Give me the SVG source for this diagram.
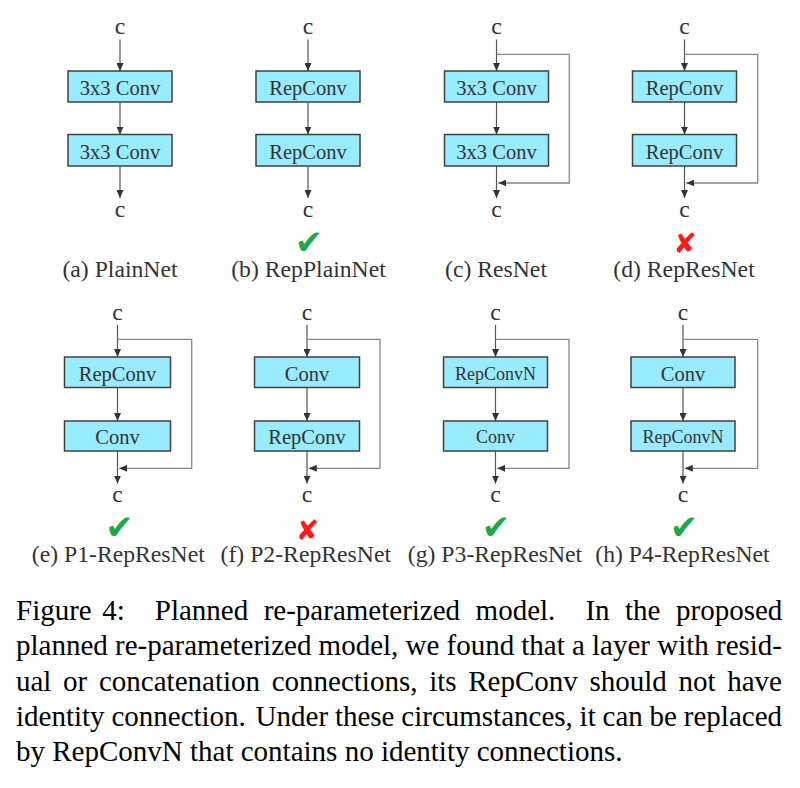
<svg xmlns="http://www.w3.org/2000/svg" width="800" height="788" viewBox="0 0 800 788">
<defs>
<style>
.box{fill:#99ebff;stroke:#404040;stroke-width:1.5}
.bt{font-family:"Liberation Serif","Times New Roman",serif;font-size:20.5px;fill:#333;text-anchor:middle}
.bs{font-size:18px}
.lbl{font-family:"Liberation Serif","Times New Roman",serif;font-size:23.7px;fill:#333;text-anchor:middle}
.cap{font-family:"Liberation Serif","Times New Roman",serif;font-size:29px;fill:#000}
.v{stroke:#555;stroke-width:1.2;fill:none}
.s{stroke:#888;stroke-width:1.3;fill:none}
.ok{font-family:"DejaVu Sans",sans-serif;font-size:34px;fill:#1fa84a;text-anchor:middle}
.no{font-family:"DejaVu Sans",sans-serif;font-size:28px;fill:#ff1a1a;text-anchor:middle}
</style>
<marker id="ah" markerUnits="userSpaceOnUse" markerWidth="8" markerHeight="7" refX="8" refY="3.5" orient="auto">
<path d="M0,0 L8,3.5 L0,7 z" fill="#333"/>
</marker>
</defs>
<rect width="800" height="788" fill="#fff"/>

<g id="connectors">
<!-- a -->
<line class="v" x1="120" y1="39.5" x2="120" y2="71" marker-end="url(#ah)"/>
<line class="v" x1="120" y1="102" x2="120" y2="134.5" marker-end="url(#ah)"/>
<line class="v" x1="120" y1="166" x2="120" y2="198" marker-end="url(#ah)"/>
<!-- b -->
<line class="v" x1="308" y1="39.5" x2="308" y2="71" marker-end="url(#ah)"/>
<line class="v" x1="308" y1="102" x2="308" y2="134.5" marker-end="url(#ah)"/>
<line class="v" x1="308" y1="166" x2="308" y2="198" marker-end="url(#ah)"/>
<!-- c -->
<line class="v" x1="496.5" y1="39.5" x2="496.5" y2="71" marker-end="url(#ah)"/>
<line class="v" x1="496.5" y1="102" x2="496.5" y2="134.5" marker-end="url(#ah)"/>
<line class="v" x1="496.5" y1="166" x2="496.5" y2="198" marker-end="url(#ah)"/>
<path class="s" d="M496.5,54.3 H569.3 V183 H498.3" marker-end="url(#ah)"/>
<!-- d -->
<line class="v" x1="684.5" y1="39.5" x2="684.5" y2="71" marker-end="url(#ah)"/>
<line class="v" x1="684.5" y1="102" x2="684.5" y2="134.5" marker-end="url(#ah)"/>
<line class="v" x1="684.5" y1="166" x2="684.5" y2="198" marker-end="url(#ah)"/>
<path class="s" d="M684.5,54.3 H757.7 V183 H686.3" marker-end="url(#ah)"/>
<!-- e -->
<line class="v" x1="117.5" y1="325" x2="117.5" y2="357" marker-end="url(#ah)"/>
<line class="v" x1="117.5" y1="387.5" x2="117.5" y2="421" marker-end="url(#ah)"/>
<line class="v" x1="117.5" y1="451" x2="117.5" y2="483.5" marker-end="url(#ah)"/>
<path class="s" d="M117.5,339.3 H191.7 V468.3 H119.3" marker-end="url(#ah)"/>
<!-- f -->
<line class="v" x1="307" y1="325" x2="307" y2="357" marker-end="url(#ah)"/>
<line class="v" x1="307" y1="387.5" x2="307" y2="421" marker-end="url(#ah)"/>
<line class="v" x1="307" y1="451" x2="307" y2="483.5" marker-end="url(#ah)"/>
<path class="s" d="M307,339.3 H380 V468.3 H308.8" marker-end="url(#ah)"/>
<!-- g -->
<line class="v" x1="495.5" y1="325" x2="495.5" y2="357" marker-end="url(#ah)"/>
<line class="v" x1="495.5" y1="387.5" x2="495.5" y2="421" marker-end="url(#ah)"/>
<line class="v" x1="495.5" y1="451" x2="495.5" y2="483.5" marker-end="url(#ah)"/>
<path class="s" d="M495.5,339.3 H569 V468.3 H497.3" marker-end="url(#ah)"/>
<!-- h -->
<line class="v" x1="683" y1="325" x2="683" y2="357" marker-end="url(#ah)"/>
<line class="v" x1="683" y1="387.5" x2="683" y2="421" marker-end="url(#ah)"/>
<line class="v" x1="683" y1="451" x2="683" y2="483.5" marker-end="url(#ah)"/>
<path class="s" d="M683,339.3 H757.7 V468.3 H684.8" marker-end="url(#ah)"/>
</g>

<g id="panel-a">
<text class="lbl" x="120" y="34">c</text>
<g id="a-conv1"><rect class="box" x="68" y="71" width="104" height="31"/><text class="bt" x="120" y="95">3x3 Conv</text></g>
<g id="a-conv2"><rect class="box" x="68" y="134.5" width="104" height="31.5"/><text class="bt" x="120" y="158.5">3x3 Conv</text></g>
<text class="lbl" x="120" y="217">c</text>
<text class="lbl" x="120" y="277">(a) PlainNet</text>
</g>

<g id="panel-b">
<text class="lbl" x="308" y="34">c</text>
<g id="b-conv1"><rect class="box" x="256" y="71" width="104" height="31"/><text class="bt" x="308" y="95">RepConv</text></g>
<g id="b-conv2"><rect class="box" x="256" y="134.5" width="104" height="31.5"/><text class="bt" x="308" y="158.5">RepConv</text></g>
<text class="lbl" x="308" y="217">c</text>
<text class="ok" x="309" y="254">✔</text>
<text class="lbl" x="308.5" y="277">(b) RepPlainNet</text>
</g>

<g id="panel-c">
<text class="lbl" x="496.5" y="34">c</text>
<g id="c-conv1"><rect class="box" x="444.5" y="71" width="104" height="31"/><text class="bt" x="496.5" y="95">3x3 Conv</text></g>
<g id="c-conv2"><rect class="box" x="444.5" y="134.5" width="104" height="31.5"/><text class="bt" x="496.5" y="158.5">3x3 Conv</text></g>
<text class="lbl" x="496.5" y="217">c</text>
<text class="lbl" x="496" y="277">(c) ResNet</text>
</g>

<g id="panel-d">
<text class="lbl" x="684.5" y="34">c</text>
<g id="d-conv1"><rect class="box" x="632.5" y="71" width="104" height="31"/><text class="bt" x="684.5" y="95">RepConv</text></g>
<g id="d-conv2"><rect class="box" x="632.5" y="134.5" width="104" height="31.5"/><text class="bt" x="684.5" y="158.5">RepConv</text></g>
<text class="lbl" x="684.5" y="217">c</text>
<text class="no" x="685" y="252.5">✘</text>
<text class="lbl" x="684" y="277">(d) RepResNet</text>
</g>

<g id="panel-e">
<text class="lbl" x="117.5" y="320">c</text>
<g id="e-conv1"><rect class="box" x="64.5" y="357" width="106" height="30.5"/><text class="bt" x="117.5" y="380.5">RepConv</text></g>
<g id="e-conv2"><rect class="box" x="64.5" y="421" width="106" height="30"/><text class="bt" x="117.5" y="444">Conv</text></g>
<text class="lbl" x="117.5" y="502">c</text>
<text class="ok" x="119.5" y="539">✔</text>
<text class="lbl" x="118.3" y="562">(e) P1-RepResNet</text>
</g>

<g id="panel-f">
<text class="lbl" x="307" y="320">c</text>
<g id="f-conv1"><rect class="box" x="254.5" y="357" width="105" height="30.5"/><text class="bt" x="307" y="380.5">Conv</text></g>
<g id="f-conv2"><rect class="box" x="254.5" y="421" width="105" height="30"/><text class="bt" x="307" y="444">RepConv</text></g>
<text class="lbl" x="307" y="502">c</text>
<text class="no" x="307.5" y="539.5">✘</text>
<text class="lbl" x="305.8" y="562">(f) P2-RepResNet</text>
</g>

<g id="panel-g">
<text class="lbl" x="495.5" y="320">c</text>
<g id="g-conv1"><rect class="box" x="443.5" y="357" width="104" height="30.5"/><text class="bt bs" x="495.5" y="379.5">RepConvN</text></g>
<g id="g-conv2"><rect class="box" x="443.5" y="421" width="104" height="30"/><text class="bt bs" x="495.5" y="443">Conv</text></g>
<text class="lbl" x="495.5" y="502">c</text>
<text class="ok" x="496" y="539">✔</text>
<text class="lbl" x="495" y="562">(g) P3-RepResNet</text>
</g>

<g id="panel-h">
<text class="lbl" x="683" y="320">c</text>
<g id="h-conv1"><rect class="box" x="631" y="357" width="104" height="30.5"/><text class="bt" x="683" y="380.5">Conv</text></g>
<g id="h-conv2"><rect class="box" x="631" y="421" width="104" height="30"/><text class="bt bs" x="683" y="443">RepConvN</text></g>
<text class="lbl" x="683" y="502">c</text>
<text class="ok" x="684" y="539">✔</text>
<text class="lbl" x="682.5" y="562">(h) P4-RepResNet</text>
</g>

<g id="caption">
<text class="cap" y="620"><tspan x="16">Figure</tspan><tspan x="102.2">4:</tspan><tspan x="154.8">Planned</tspan><tspan x="263.7">re-parameterized</tspan><tspan x="475.6">model.</tspan><tspan x="585.4">In</tspan><tspan x="625">the</tspan><tspan x="676">proposed</tspan></text>
<text class="cap" y="655.3"><tspan x="16">planned</tspan><tspan x="115">re-parameterized</tspan><tspan x="318.6">model,</tspan><tspan x="405.5">we</tspan><tspan x="446.5">found</tspan><tspan x="521.3">that</tspan><tspan x="572">a</tspan><tspan x="592">layer</tspan><tspan x="657.2">with</tspan><tspan x="716">resid-</tspan></text>
<text class="cap" y="690.6"><tspan x="16">ual</tspan><tspan x="63.1">or</tspan><tspan x="99">concatenation</tspan><tspan x="271.7">connections,</tspan><tspan x="429.2">its</tspan><tspan x="468.2">RepConv</tspan><tspan x="589.5">should</tspan><tspan x="678.5">not</tspan><tspan x="727.2">have</tspan></text>
<text class="cap" y="726"><tspan x="16">identity</tspan><tspan x="111.4">connection.</tspan><tspan x="255.6">Under</tspan><tspan x="334.9">these</tspan><tspan x="401.3">circumstances,</tspan><tspan x="579.6">it</tspan><tspan x="602.6">can</tspan><tspan x="649.6">be</tspan><tspan x="683.8">replaced</tspan></text>
<text class="cap" x="16" y="761.3">by RepConvN that contains no identity connections.</text>
</g>
</svg>
